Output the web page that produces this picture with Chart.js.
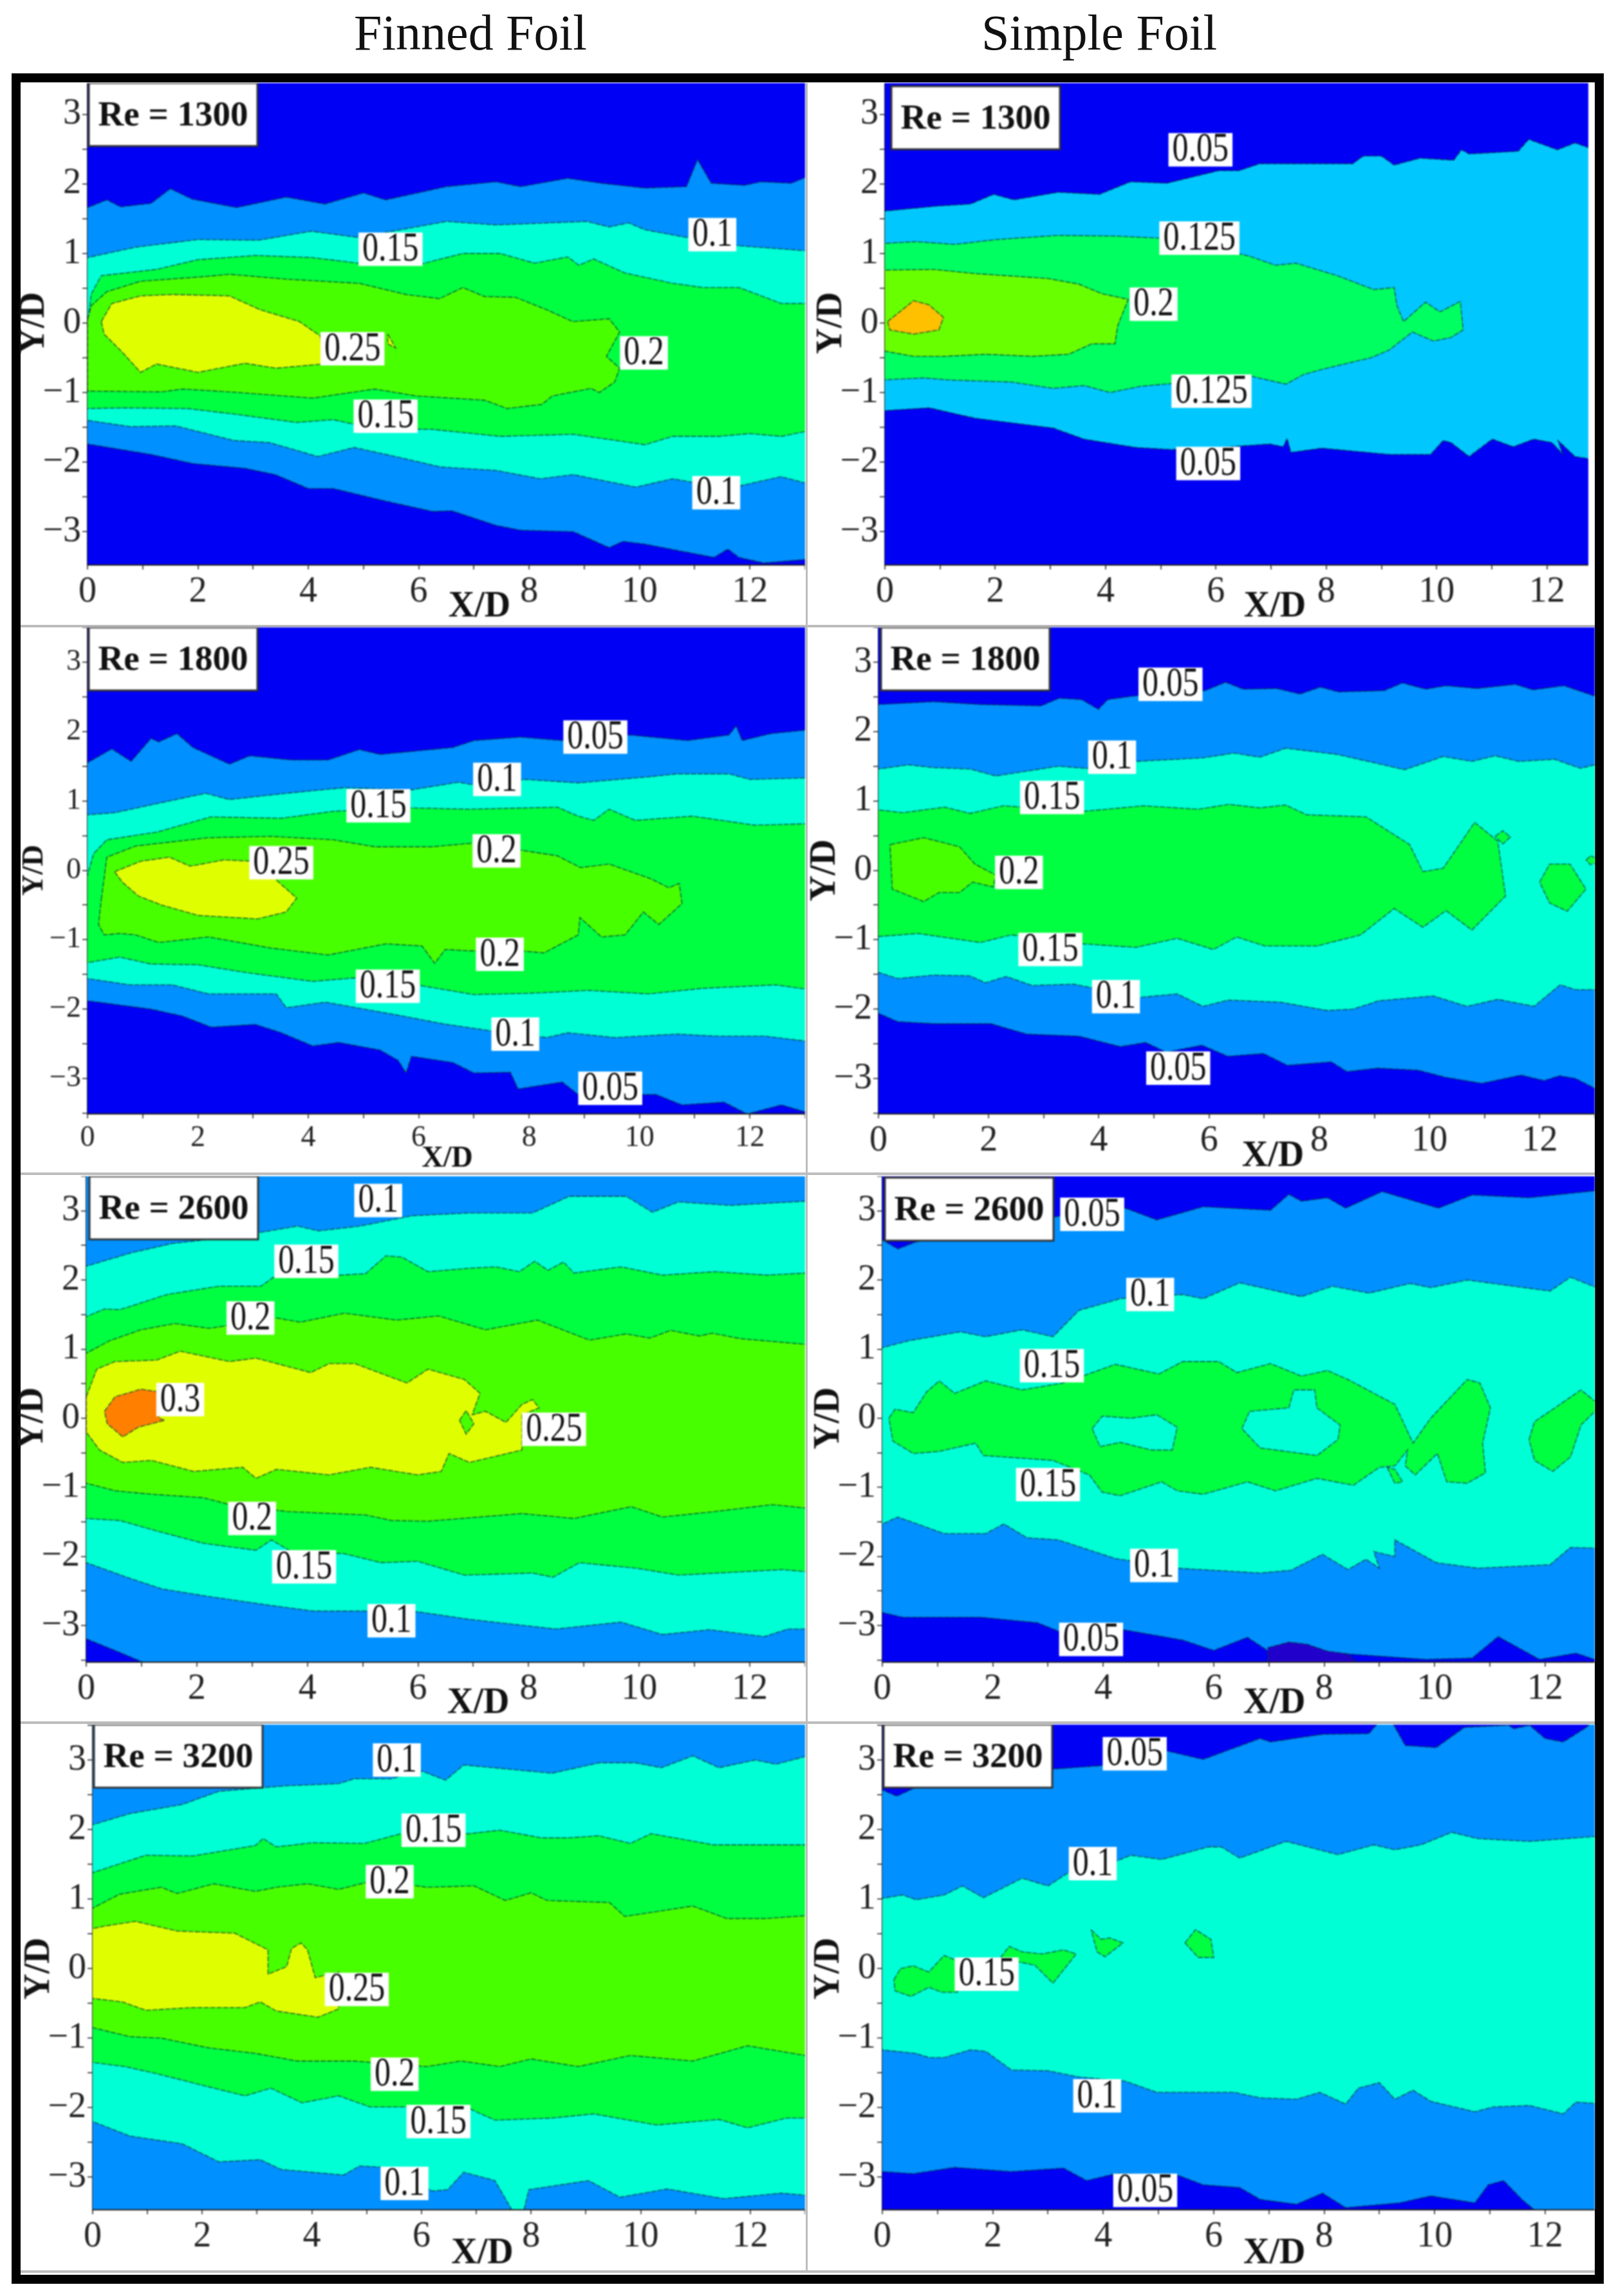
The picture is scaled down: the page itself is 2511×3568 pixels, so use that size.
<!DOCTYPE html>
<html>
<head>
<meta charset="utf-8">
<title>Finned Foil / Simple Foil</title>
<script src="https://cdn.jsdelivr.net/npm/chart.js"></script>
<style>
  html, body { margin: 0; padding: 0; background: #fff; }
  #stage { position: relative; width: 2511px; height: 3568px; overflow: hidden; background: #fff; }
  #stage canvas { position: absolute; filter: blur(0.8px); }
  .head { position: absolute; top: 6px; font: 78px "Liberation Serif", serif; color: #111; transform: translateX(-50%); white-space: nowrap; }
  .rule { position: absolute; background: #bdbdbd; }
  #frame { position: absolute; left: 18px; top: 114px; width: 2446px; height: 3407px; border: 14px solid #000; }
</style>
</head>
<body>
<div id="stage">
  <div class="head" style="left:731px">Finned Foil</div>
  <div class="head" style="left:1708px">Simple Foil</div>
  <div id="frame"></div>
  <div class="rule" style="left:32px;top:971px;width:2446px;height:4px"></div>
  <div class="rule" style="left:32px;top:1822px;width:2446px;height:4px"></div>
  <div class="rule" style="left:32px;top:2675px;width:2446px;height:4px"></div>
  <div class="rule" style="left:32px;top:3528px;width:2446px;height:4px"></div>
  <div class="rule" style="left:1252px;top:129px;width:3px;height:3400px"></div>
</div>
<script>
// contour colours
const L0 = "#0000f5", L1 = "#0090ff", L2 = "#00ffd5", L3 = "#00ff40", L4 = "#48ff00", L5 = "#dfff00", L6 = "#ff8000";
const C1 = "#00c8ff", C2 = "#00ff60", C3 = "#68ff00", C4 = "#ffc000", PURPLE = "#2200cc";

/*------------------------------------------
Finned foil, Re = 1300
-------------------------------------------*/
const f13aTopX = [0,.35,.6,1.15,1.5,1.9,2.7,3.6,4.3,5,5.4,6.5,7.4,7.85,8.7,9.3,10.1,10.85,11.05,11.3,11.9,12.2,12.75,13];
const f13aTopY = [1.66,1.77,1.67,1.72,1.93,1.78,1.66,1.81,1.71,1.87,1.77,1.96,2.03,1.96,2.08,2.01,1.94,1.96,2.35,2.01,1.98,2.03,2.01,2.09];
const f13aBotX = [0,1.15,1.9,2.85,3.4,4,4.45,5.4,6.25,6.6,7.4,7.85,8.8,9.45,9.7,10.1,11.35,11.6,11.8,12.25,13];
const f13aBotY = [-1.74,-1.89,-2.02,-2.09,-2.18,-2.38,-2.38,-2.56,-2.71,-2.7,-2.91,-2.98,-3,-3.23,-3.14,-3.18,-3.37,-3.25,-3.37,-3.45,-3.4];
const f13bTopX = [0,.87,2,3.1,4.05,4.9,6.5,7.4,9.05,9.45,9.8,10.1,10.85,11.8,13];
const f13bTopY = [.94,1.09,1.2,1.19,1.32,1.23,1.46,1.41,1.46,1.38,1.44,1.34,1.23,1.11,1.04];
const f13bBotX = [0,.77,1.6,2.65,3.3,4.17,4.83,5.58,6.4,7.4,8.2,8.8,9.93,10.6,11.6,12.56,13];
const f13bBotY = [-1.4,-1.49,-1.48,-1.69,-1.72,-1.92,-1.79,-1.92,-2.07,-2.12,-2.24,-2.18,-2.36,-2.24,-2.38,-2.21,-2.3];
const f13cTopX = [0,.07,.25,1.25,2,3.05,4.07,4.9,5.96,6.8,7.47,8.1,8.7,8.9,9.17,9.73,10.6,11.15,11.8,12.57,13];
const f13cTopY = [0,.42,.68,.77,.91,.97,.94,.86,.83,1,1,.86,.95,.83,.92,.72,.57,.51,.51,.28,.28];
const f13cBotX = [0,.68,1.81,2.66,3.79,4.45,5.2,6.25,7.47,8.8,10.1,10.6,11.43,12,12.57,13];
const f13cBotY = [-1.23,-1.22,-1.23,-1.31,-1.43,-1.39,-1.52,-1.53,-1.63,-1.6,-1.75,-1.63,-1.63,-1.59,-1.63,-1.56];
const f13dX = [0,.07,.35,.96,2.17,2.57,3.6,4.92,5.77,6.38,6.8,7.19,7.75,8.32,8.79,9.45,9.64,9.4,9.64,9.55,9.27,9.12,8.42,8.23,7.6,7.19,5.96,5.2,4.08,2.57,1.72,1.34,0];
const f13dY = [.05,.25,.45,.6,.67,.7,.63,.57,.41,.35,.51,.38,.37,.19,.02,.06,-.13,-.48,-.65,-.85,-1,-.94,-1.05,-1.17,-1.23,-1.11,-1.05,-.95,-1.08,-.99,-.95,-.99,-.98];
const f13eX = [.25,.44,.96,1.53,2.57,3.13,3.84,4.22,4.26,3.42,2.85,2,1.25,.96,.63,.3];
const f13eY = [.02,.28,.39,.41,.39,.19,.02,-.19,-.59,-.65,-.58,-.71,-.59,-.71,-.42,-.16];
const f13spikeX = [5.44,5.58,5.44];
const f13spikeY = [-.16,-.36,-.3];
const f13LabelText = ["0.15","0.1","0.25","0.2","0.15","0.1"];
const f13LabelX = [5.49,11.32,4.8,10.08,5.4,11.39];
const f13LabelY = [1.06,1.27,-.37,-.43,-1.34,-2.44];

/*------------------------------------------
Simple foil, Re = 1300
-------------------------------------------*/
const s13aTopX = [0,.94,1.55,1.97,2.34,3.14,3.89,4.45,5.11,6.05,6.42,6.79,8.48,8.67,9,9.23,9.7,10.31,10.45,10.59,11.48,11.67,12.19,12.51,12.75];
const s13aTopY = [1.61,1.68,1.71,1.85,1.77,1.88,1.85,2.03,2.01,2.19,2.19,2.29,2.29,2.4,2.4,2.27,2.37,2.34,2.49,2.43,2.47,2.64,2.49,2.59,2.52];
const s13aBotX = [0,.8,1.64,3.05,3.61,4.55,5.2,6.05,6.98,7.22,7.29,7.36,7.92,9.14,9.89,10.12,10.26,10.59,11.01,11.39,11.76,12.09,12.28,12.2,12.51,12.75];
const s13aBotY = [-1.26,-1.22,-1.37,-1.51,-1.67,-1.79,-1.82,-1.79,-1.74,-1.78,-1.66,-1.86,-1.8,-1.89,-1.89,-1.69,-1.72,-1.92,-1.67,-1.78,-1.67,-1.72,-1.88,-1.69,-1.92,-1.95];
const s13bX = [-.1,.56,1.27,2.02,3.14,4.17,4.97,5.67,6.61,7.08,7.45,8.2,8.86,9.23,9.28,9.4,9.8,10.06,10.43,10.48,10.26,9.94,9.56,9.14,8.81,8.01,7.59,7.27,6.61,5.95,4.64,4.08,3.61,3.05,2.3,1.17,.7,-.1];
const s13bY = [1.14,1.17,1.13,1.2,1.26,1.25,1.22,1.14,.96,.83,.86,.68,.48,.51,.25,.02,.3,.16,.31,-.1,-.21,-.26,-.13,-.39,-.5,-.65,-.74,-.88,-.76,-.82,-.91,-1,-.9,-.94,-.85,-.82,-.79,-.82];
const s13cX = [-.1,.89,1.64,2.95,3.51,3.94,4.41,4.22,4.17,3.75,3.33,2.67,1.83,1.08,.52,-.1];
const s13cY = [.76,.77,.71,.64,.56,.42,.34,-.04,-.3,-.3,-.45,-.48,-.45,-.48,-.48,-.39];
const s13dX = [.05,.52,.8,1.06,.98,.52,.09];
const s13dY = [.02,.32,.26,.08,-.1,-.16,-.1];
const s13LabelText = ["0.05","0.125","0.2","0.125","0.05"];
const s13LabelX = [5.72,5.7,4.87,5.92,5.86];
const s13LabelY = [2.49,1.22,.27,-.98,-2.02];

/*------------------------------------------
Finned foil, Re = 1800
-------------------------------------------*/
const f18aTopX = [0,.44,.79,1.15,1.29,1.62,1.91,2.57,2.94,3.7,4.36,4.92,5.3,6.62,7,7.85,8.6,9.83,10.87,11.62,11.75,11.86,12.38,13];
const f18aTopY = [1.55,1.75,1.57,1.9,1.85,1.97,1.77,1.53,1.65,1.59,1.59,1.74,1.67,1.77,1.87,1.92,1.87,1.95,1.87,1.95,2.08,1.87,1.97,2.02];
const f18aBotX = [0,1.15,1.72,2.24,3.04,3.51,4.08,4.55,5.3,5.63,5.77,5.87,6.62,7,7.66,7.8,8.6,8.89,10.3,10.77,11.53,11.95,12.57,13];
const f18aBotY = [-1.88,-2,-2.1,-2.26,-2.22,-2.34,-2.53,-2.48,-2.59,-2.74,-2.92,-2.68,-2.77,-2.92,-2.91,-3.15,-3.05,-3.23,-3.23,-3.38,-3.34,-3.51,-3.38,-3.48];
const f18bTopX = [0,.49,1.25,2.14,2.57,3.6,4.64,5.87,6.72,7,7.94,8.89,10.2,10.68,11.62,12,13];
const f18bTopY = [.8,.83,.96,1.11,1.02,1.11,1.19,1.16,1.27,1.23,1.31,1.26,1.35,1.39,1.39,1.31,1.33];
const f18bBotX = [0,.77,1.53,2.19,3.42,3.6,4.31,5.58,6.43,7.28,8.32,8.7,9.55,10.68,11.43,12.28,13];
const f18bBotY = [-1.56,-1.65,-1.65,-1.78,-1.78,-1.98,-1.9,-2.08,-2.21,-2.31,-2.41,-2.34,-2.41,-2.36,-2.39,-2.39,-2.46];
const f18cTopX = [0,.11,.35,1.25,2.24,3.51,4.45,5.87,6.91,8.51,8.89,9.17,9.45,9.92,10.96,12.09,13];
const f18cTopY = [-.07,.24,.44,.55,.77,.75,.85,.9,.88,.91,.78,.72,.88,.72,.78,.65,.67];
const f18cBotX = [0,.58,1.15,2,2.85,4.08,4.83,5.96,7,8.04,9.08,10.16,11.15,12.47,13];
const f18cBotY = [-1.33,-1.25,-1.35,-1.36,-1.47,-1.6,-1.55,-1.65,-1.79,-1.77,-1.73,-1.78,-1.7,-1.65,-1.71];
const f18dX = [.25,.35,.87,2.19,3.32,4.45,5.2,6.25,6.95,7.85,8.51,8.93,9.45,10.2,10.53,10.72,10.77,10.35,10.07,9.74,9.31,8.92,8.89,8.27,7.85,6.91,6.48,6.29,6.06,5.4,4.36,3.32,2.19,1.29,.87,.58,.3,.2];
const f18dY = [-.42,.19,.35,.47,.49,.44,.34,.34,.39,.29,.21,.04,.09,-.12,-.25,-.19,-.48,-.78,-.6,-.93,-.96,-.68,-.93,-1.19,-1.16,-1.16,-1.14,-1.34,-1.09,-1.06,-1.22,-1.12,-.96,-1.04,-.93,-.91,-.93,-.78];
const f18eX = [.49,.96,1.48,1.86,2.47,3.04,3.42,3.79,3.6,3.08,2,1.34,.92,.63];
const f18eY = [-.02,.13,.19,.06,.15,.13,-.14,-.4,-.6,-.7,-.65,-.5,-.37,-.17];
const f18LabelText = ["0.05","0.1","0.15","0.2","0.25","0.2","0.15","0.1","0.05"];
const f18LabelX = [9.2,7.42,5.27,7.41,3.51,7.47,5.44,7.75,9.47];
const f18LabelY = [1.92,1.31,.93,.28,.11,-1.21,-1.67,-2.36,-3.14];

/*------------------------------------------
Simple foil, Re = 1800
-------------------------------------------*/
const s18aTopX = [0,1,1.84,2.95,3.28,3.69,3.99,4.16,4.62,5.93,6.3,6.62,7.23,7.65,8.02,8.35,9.18,9.51,9.93,10.3,10.86,11.56,11.88,12.44,13];
const s18aTopY = [2.39,2.43,2.39,2.37,2.48,2.46,2.32,2.46,2.51,2.59,2.71,2.61,2.62,2.54,2.64,2.57,2.59,2.7,2.61,2.66,2.62,2.68,2.6,2.66,2.51];
const s18aBotX = [0,.35,1,2.04,2.69,3.64,4.39,4.85,5.22,5.87,6.34,6.99,7.42,8.22,8.5,9.06,9.8,10.28,10.95,11.66,12.08,12.36,12.65,13];
const s18aBotY = [-2.06,-2.18,-2.21,-2.21,-2.36,-2.39,-2.54,-2.48,-2.62,-2.52,-2.68,-2.64,-2.81,-2.76,-2.9,-2.85,-2.88,-2.98,-3.07,-2.95,-3.03,-2.96,-3,-3.14];
const s18bTopX = [0,.54,1,1.66,2.13,3.26,3.92,4.67,5.89,6.45,6.92,7.39,8.33,9.55,10.25,10.77,11.19,11.62,12.27,12.74,13];
const s18bTopY = [1.46,1.52,1.48,1.46,1.36,1.5,1.46,1.57,1.62,1.69,1.63,1.76,1.67,1.45,1.64,1.57,1.65,1.57,1.6,1.47,1.52];
const s18bBotX = [0,.35,1,1.66,1.94,2.32,2.79,3.54,4.76,5.42,5.89,6.35,7.3,8.14,8.61,9.08,10.07,10.68,11.24,11.9,12.37,12.65,13];
const s18bBotY = [-1.47,-1.56,-1.51,-1.52,-1.62,-1.53,-1.66,-1.64,-1.83,-1.78,-1.96,-1.87,-1.9,-2.02,-2,-1.88,-1.81,-1.96,-1.86,-1.96,-1.65,-1.72,-1.72];
const s18cX = [-.1,.44,1.2,1.66,2.27,3.73,4.81,5.8,6.36,6.92,7.39,7.77,8.85,9.64,9.88,10.25,10.82,11.24,11.38,10.77,10.3,9.88,9.36,8.75,7.96,7.01,6.5,6.08,5.42,4.67,3.73,2.41,1.85,.72,-.1];
const s18cY = [.88,.83,.91,.82,.93,.85,.93,.88,.95,.9,.94,.8,.77,.37,-.02,.03,.69,.42,-.37,-.86,-.58,-.82,-.55,-.93,-1.09,-1.09,-.96,-1.14,-.98,-1.11,-1.06,-.93,-1.04,-.91,-.96];
const s18diamondX = [11.19,11.33,11.47,11.33];
const s18diamondY = [.49,.57,.48,.38];
const s18ovalX = [12,12.18,12.55,12.84,12.5,12.18];
const s18ovalY = [-.17,.09,.09,-.27,-.59,-.47];
const s18edgeX = [12.84,12.93,13.1,12.92];
const s18edgeY = [.15,.21,.14,.08];
const s18dX = [.21,.82,1.47,1.75,2.13,2.08,1.71,1.47,1.1,.82,.25];
const s18dY = [.37,.47,.34,.09,-.07,-.24,-.17,-.32,-.32,-.45,-.27];
const s18LabelText = ["0.05","0.1","0.15","0.2","0.15","0.1","0.05"];
const s18LabelX = [5.3,4.24,3.15,2.55,3.12,4.31,5.44];
const s18LabelY = [2.68,1.63,1.05,-.03,-1.14,-1.82,-2.85];

/*------------------------------------------
Finned foil, Re = 2600
-------------------------------------------*/
const f26cornerX = [-.1,.61,1.23,-.1];
const f26cornerY = [-3.16,-3.39,-3.6,-3.6];
const f26aTopX = [0,.8,1.56,2.03,3.16,3.82,4.2,4.95,5.9,6.93,8.07,8.73,9.77,10.24,10.71,11.65,13];
const f26aTopY = [2.2,2.39,2.53,2.57,2.69,2.78,2.71,2.78,2.93,2.97,2.97,3.21,3.21,2.98,3.13,3.08,3.14];
const f26aBotX = [0,.8,1.37,2.22,3.35,4.1,5.9,6.93,8.49,9.67,10.42,11.27,12.26,12.69,13];
const f26aBotY = [-2.09,-2.32,-2.47,-2.58,-2.71,-2.79,-2.79,-2.91,-3.05,-2.95,-3.13,-3.06,-3.16,-3.05,-3.05];
const f26bTopX = [0,.33,.61,1.46,2.4,3.16,3.44,4.58,5.05,5.42,5.71,6.18,6.93,7.41,7.83,8.11,8.35,8.63,8.82,9.67,10.42,11.37,12.31,13];
const f26bTopY = [1.47,1.58,1.57,1.79,1.91,1.91,2.07,2.07,2.09,2.35,2.33,2.12,2.17,2.19,2.12,2.27,2.14,2.26,2.1,2.19,2.07,2.12,2.07,2.1];
const f26bBotX = [0,.61,1.27,2.12,3.07,3.35,3.73,4.67,5.33,5.99,6.84,8.07,8.44,8.92,9.95,10.71,12.59,13];
const f26bBotY = [-1.45,-1.48,-1.63,-1.81,-1.91,-1.76,-1.94,-1.96,-2.09,-2.07,-2.27,-2.24,-2.3,-2.09,-2.17,-2.27,-2.19,-2.22];
const f26cTopX = [0,.42,.99,1.6,2.22,3.44,3.87,4.67,5.61,6.37,7.22,8.16,9.1,9.76,10.19,10.57,11.09,11.32,11.84,13];
const f26cTopY = [.94,1.12,1.28,1.37,1.3,1.45,1.39,1.52,1.42,1.48,1.28,1.42,1.13,1.22,1.16,1.27,1.19,1.23,1.15,1.07];
const f26cBotX = [0,.52,1.18,2.12,2.59,3.63,5.05,5.52,6.18,7.88,8.82,9.86,10.42,11.37,12.41,13];
const f26cBotY = [-.94,-1.05,-1.1,-1.15,-1.25,-1.35,-1.4,-1.48,-1.49,-1.38,-1.45,-1.28,-1.43,-1.35,-1.25,-1.3];
const f26dX = [0,.19,.52,1.27,1.7,2.59,3.07,4.06,4.39,4.86,5.8,6.18,6.84,7.12,6.98,7.22,7.59,7.88,8.07,8.19,7.88,7.88,6.93,6.56,6.42,5.99,5.14,4.39,3.44,3.07,2.83,1.94,1.18,.66,.24,0];
const f26dY = [.31,.71,.82,.84,.97,.82,.87,.66,.79,.79,.51,.71,.56,.36,.05,.1,-.06,.2,.27,.15,.05,-.46,-.64,-.51,-.77,-.82,-.71,-.82,-.74,-.87,-.71,-.77,-.61,-.64,-.46,-.2];
const f26holeX = [6.75,6.87,7.01,6.87];
const f26holeY = [-.03,.11,-.08,-.23];
const f26eX = [.33,.52,.99,1.32,1.32,1.42,.94,.66,.38];
const f26eY = [.1,.31,.42,.38,0,-.03,-.13,-.27,-.08];
const f26LabelText = ["0.1","0.15","0.2","0.3","0.25","0.2","0.15","0.1"];
const f26LabelX = [5.28,3.98,2.97,1.7,8.46,3,3.94,5.52];
const f26LabelY = [3.15,2.27,1.45,.27,-.16,-1.45,-2.15,-2.93];

/*------------------------------------------
Simple foil, Re = 2600
-------------------------------------------*/
const s26aTopX = [0,.28,.61,3.09,4.4,4.97,5.81,7.03,7.36,7.59,8.06,8.39,9.05,10.07,10.68,11.71,12.9];
const s26aTopY = [2.58,2.45,2.55,2.91,3.04,2.87,3.06,3.01,3.24,3.14,3.19,3.04,3.28,3.04,3.23,3.19,3.29];
const s26aBotX = [0,.37,1.78,2.81,3.28,4.36,5.44,6,6.61,7.03,8.43,9.84,10.68,11.15,11.9,12.56,12.9];
const s26aBotY = [-2.81,-2.88,-2.88,-2.96,-3.11,-3.06,-3.21,-3.36,-3.17,-3.39,-3.41,-3.49,-3.47,-3.16,-3.49,-3.4,-3.49];
const s26patchX = [6.98,7.36,7.69,8.06,8.43,8.67,6.98];
const s26patchY = [-3.32,-3.24,-3.27,-3.37,-3.41,-3.6,-3.6];
const s26bTopX = [0,.47,1.41,1.87,2.53,3.09,3.56,4.31,4.78,5.44,5.81,6.47,7.59,8.15,8.81,9.56,9.93,10.59,11.43,12.09,12.46,12.9];
const s26bTopY = [1.02,1.12,1.25,1.18,1.28,1.18,1.56,1.73,1.76,1.79,1.73,1.96,1.76,1.91,1.81,1.95,1.89,2,1.91,1.84,2.04,1.9];
const s26bBotX = [0,.28,1.12,1.87,2.2,2.62,3.18,4.22,5.34,6.84,7.4,7.97,8.43,8.76,9,8.9,9.28,9.28,10.03,10.78,12.09,12.46,12.9];
const s26bBotY = [-1.53,-1.43,-1.67,-1.67,-1.53,-1.73,-1.76,-2.03,-2.17,-2.24,-2.2,-1.97,-2.19,-2.04,-2.17,-1.93,-2,-1.76,-2.09,-2.17,-2.12,-1.87,-1.88];
const s26cX = [.12,.23,.56,.8,1.03,1.31,1.87,2.53,3.28,4.22,5.01,5.44,6.09,6.42,7.03,7.59,8.06,8.43,9.28,9.61,9.93,10.59,10.82,11.01,10.87,10.92,10.59,10.22,10.05,9.65,9.47,9.51,9.28,9,8.53,7.87,7.12,6.61,5.81,5.34,5.06,4.31,3.98,3.75,3.09,1.83,1.69,1.03,.56,.19];
const s26cY = [0,.13,.08,.38,.54,.36,.54,.41,.51,.78,.64,.82,.82,.66,.79,.61,.69,.56,.2,-.36,0,.56,.51,.15,-.36,-.79,-.94,-.92,-.51,-.82,-.69,-.46,-.69,-.71,-.97,-.87,-1.05,-.92,-1.1,-1.05,-.92,-1.12,-1.07,-.82,-.61,-.54,-.36,-.48,-.51,-.33];
const s26tailX = [9.14,9.28,9.42,9.28];
const s26tailY = [-.71,-.94,-.92,-.74];
const s26islandX = [11.71,11.81,12.18,12.65,13,12.65,12.46,12.14,11.81];
const s26islandY = [-.31,-.05,.15,.41,.18,-.1,-.56,-.77,-.61];
const s26hole1X = [3.8,3.98,4.5,4.97,5.34,5.25,4.87,4.31,3.94];
const s26hole1Y = [-.15,.03,0,.05,-.13,-.46,-.46,-.35,-.41];
const s26hole2X = [6.51,6.65,7.36,7.45,7.83,7.87,8.29,8.25,7.87,6.84];
const s26hole2Y = [-.15,.1,.15,.41,.41,.15,-.1,-.31,-.54,-.43];
const s26LabelText = ["0.05","0.1","0.15","0.15","0.1","0.05"];
const s26LabelX = [3.8,4.85,3.07,3,4.92,3.78];
const s26LabelY = [2.95,1.79,.76,-.96,-2.13,-3.2];

/*------------------------------------------
Finned foil, Re = 3200
-------------------------------------------*/
const f32aTopX = [0,.68,1.63,2.3,3.54,4.49,4.77,5.44,6.01,6.44,6.77,8.38,9.24,9.9,10.38,10.95,11.43,12.09,12.47,13];
const f32aTopY = [2.07,2.23,2.36,2.55,2.63,2.66,2.73,2.73,2.84,2.71,2.93,2.81,2.96,2.96,2.89,3.06,2.89,3,2.94,3.05];
const f32aBotX = [0,.68,1.63,2.3,3.06,3.44,4.58,4.87,5.34,6.2,6.48,6.77,7.34,7.67,7.86,7.96,9.05,9.62,10.48,11.52,12.57,13];
const f32aBotY = [-2.2,-2.41,-2.52,-2.78,-2.75,-2.89,-2.97,-2.84,-2.86,-3.2,-3.18,-2.93,-3.05,-3.5,-3.5,-3.18,-3.05,-3.29,-3.17,-3.31,-3.23,-3.26];
const f32bTopX = [0,.97,1.83,2.97,3.11,3.35,4.01,4.96,5.63,6.86,7.43,8.19,8.67,9.24,9.81,10.19,11.33,12,13];
const f32bTopY = [1.38,1.63,1.62,1.77,1.87,1.75,1.81,1.8,1.94,1.94,1.99,1.88,1.88,1.91,1.8,1.94,1.78,1.78,1.78];
const f32bBotX = [0,.59,1.16,2.11,2.78,3.25,3.82,4.49,5.06,5.72,6.86,7.34,8.38,9.14,10.29,11.43,11.95,12.66,13];
const f32bBotY = [-1.35,-1.41,-1.51,-1.7,-1.83,-1.72,-1.93,-1.83,-1.99,-1.99,-2.01,-2.18,-2.15,-2.09,-2.25,-2.17,-2.29,-2.15,-2.15];
const f32cTopX = [0,.49,1.25,1.54,2.21,2.97,3.35,3.92,4.49,5.15,6.1,6.96,7.53,8,8.29,9.43,9.71,10.95,11.57,12.28,13];
const f32cTopY = [.87,1.07,1.17,1.08,1.22,1.11,1.17,1.22,1.14,1.27,1.17,1.19,.98,1.09,.98,.95,.75,.9,.72,.72,.76];
const f32cBotX = [0,.68,1.25,2.11,2.97,3.73,4.77,6.1,6.72,7.43,8,8.86,9.81,10.95,11.95,13];
const f32cBotY = [-.85,-.98,-1,-1.14,-1.22,-1.33,-1.33,-1.41,-1.33,-1.41,-1.3,-1.41,-1.25,-1.33,-1.11,-1.25];
const f32dX = [-.1,.21,.78,1.54,2.59,3.2,3.2,3.54,3.63,3.8,3.92,4.06,4.49,4.49,4.11,3.35,3.06,2.78,1.83,.97,.54,-.1];
const f32dY = [.56,.61,.68,.54,.51,.27,-.08,.03,.29,.37,.27,-.13,-.05,-.58,-.7,-.61,-.48,-.56,-.56,-.6,-.48,-.42];
const f32LabelText = ["0.1","0.15","0.2","0.25","0.2","0.15","0.1"];
const f32LabelX = [5.55,6.22,5.42,4.82,5.51,6.31,5.69];
const f32LabelY = [3,1.99,1.25,-.3,-1.52,-2.2,-3.09];

/*------------------------------------------
Simple foil, Re = 3200
-------------------------------------------*/
const s32aTopX = [0,.26,.56,3.09,3.98,5.15,5.81,6.84,7.03,7.97,8.81,9.05,9.19,9.47,10.03,10.54,11.34,11.43,11.72,12,12.33,12.75,12.9];
const s32aTopY = [2.57,2.48,2.59,2.87,2.92,3.13,3.01,3.31,3.26,3.37,3.38,3.6,3.6,3.21,3.18,3.47,3.5,3.45,3.5,3.31,3.26,3.47,3.6];
const s32aBotX = [0,.56,1.31,2.34,3.28,3.7,4.22,5.34,5.81,6.47,6.84,7.5,7.97,8.39,9.37,9.93,10.73,10.97,11.25,11.58,12,12.9];
const s32aBotY = [-2.92,-2.95,-2.86,-2.92,-2.87,-3.05,-2.95,-2.97,-3.11,-3.15,-3.32,-3.39,-3.23,-3.44,-3.37,-3.27,-3.37,-3.11,-3.05,-3.32,-3.6,-3.6];
const s32bTopX = [0,.37,.61,1.12,1.45,1.83,2.53,3,3.37,4.22,4.5,5.06,5.9,6.14,6.47,7.31,8.25,8.9,9.28,9.75,10.31,10.78,11.72,12.9];
const s32bTopY = [1.01,1.06,.99,1.06,1.19,1.02,1.3,1.19,1.38,1.54,1.63,1.57,1.75,1.75,1.59,1.83,1.64,1.78,1.71,1.78,1.96,1.87,1.83,1.9];
const s32bBotX = [0,.61,.84,1.12,1.59,1.87,2.34,3,3.56,4.4,4.97,5.62,6.37,6.84,7.5,7.92,8.39,8.62,9,9.28,9.61,9.93,10.73,11.06,11.72,12.33,12.56,12.9];
const s32bBotY = [-1.17,-1.22,-1.28,-1.28,-1.17,-1.19,-1.46,-1.47,-1.56,-1.62,-1.78,-1.78,-1.78,-1.86,-1.88,-1.78,-1.95,-1.72,-1.64,-1.88,-1.75,-1.91,-2.06,-1.99,-1.97,-2.09,-1.92,-1.94];
const s32i1X = [.21,.33,.56,.84,1.12,1.36,1.36,1.08,.84,.52,.23];
const s32i1Y = [-.16,0,.04,-.05,.19,.11,-.34,-.34,-.27,-.4,-.32];
const s32i2X = [2.14,2.3,2.53,2.9,3.28,3.51,3.09,2.76,2.44,2.16];
const s32i2Y = [.16,.32,.24,.21,.27,.21,-.21,.05,.1,.1];
const s32i3X = [3.78,3.96,4.12,4.36,4.03,3.89];
const s32i3Y = [.56,.42,.44,.37,.17,.24];
const s32i4X = [5.48,5.67,5.95,6,5.72];
const s32i4Y = [.37,.56,.42,.16,.16];
const s32LabelText = ["0.05","0.1","0.15","0.1","0.05"];
const s32LabelX = [4.57,3.81,1.89,3.89,4.76];
const s32LabelY = [3.09,1.51,-.08,-1.83,-3.19];

// tick positions
const xTickStep = 1;
const yTickStep = 0.5;

const lengthProblems = [];
function isle(xs, ys) {
  if (xs.length !== ys.length) lengthProblems.push(xs.length + "/" + ys.length + " at " + xs[0]);
  const pts = xs.map((x, i) => ({ x: x, y: ys[i] }));
  pts.push(pts[0]);
  return pts;
}
// upper boundary left to right, lower boundary back; run past both edges so the closing side is clipped
function band(tx, ty, bx, by, xEnd) {
  const top = isle(tx, ty).slice(0, -1);
  const bot = isle(bx, by).slice(0, -1).reverse();
  const pts = [{ x: -0.4, y: ty[0] }, ...top, { x: xEnd + 0.4, y: ty[ty.length - 1] },
               { x: xEnd + 0.4, y: by[by.length - 1] }, ...bot, { x: -0.4, y: by[0] }];
  pts.push(pts[0]);
  return pts;
}
function base(xEnd) {
  return [{ x: -1, y: 5 }, { x: xEnd + 1, y: 5 }, { x: xEnd + 1, y: -5 }, { x: -1, y: -5 }, { x: -1, y: 5 }];
}

const panels = [
  { id: "f13", left: 136, right: 1251, top: 129, bottom: 877, xMax: 13, yMin: -3.47, yMax: 3.45, re: "Re = 1300", reDx: 2, reDy: 0, xTitleAt: 7.1, xTitleDy: 67,
    labels: [f13LabelText, f13LabelX, f13LabelY],
    layers: [[L0, base(13)], [L1, band(f13aTopX, f13aTopY, f13aBotX, f13aBotY, 13)], [L2, band(f13bTopX, f13bTopY, f13bBotX, f13bBotY, 13)],
      [L3, band(f13cTopX, f13cTopY, f13cBotX, f13cBotY, 13)], [L4, isle(f13dX, f13dY)], [L5, isle(f13eX, f13eY)], [L5, isle(f13spikeX, f13spikeY)]] },
  { id: "s13", left: 1375, right: 2468, top: 129, bottom: 877, xMax: 12.75, yMin: -3.47, yMax: 3.45, re: "Re = 1300", reDx: 10, reDy: 5, xTitleAt: 7.07, xTitleDy: 67,
    labels: [s13LabelText, s13LabelX, s13LabelY],
    layers: [[L0, base(12.75)], [C1, band(s13aTopX, s13aTopY, s13aBotX, s13aBotY, 12.75)], [C2, isle(s13bX, s13bY)], [C3, isle(s13cX, s13cY)], [C4, isle(s13dX, s13dY)]] },
  { id: "f18", left: 136, right: 1251, top: 975, bottom: 1730, xMax: 13, yMin: -3.5, yMax: 3.5, re: "Re = 1800", reDx: 2, reDy: 0, xTitleAt: 6.52, xTitleDy: 71, small: true,
    labels: [f18LabelText, f18LabelX, f18LabelY],
    layers: [[L0, base(13)], [L1, band(f18aTopX, f18aTopY, f18aBotX, f18aBotY, 13)], [L2, band(f18bTopX, f18bTopY, f18bBotX, f18bBotY, 13)],
      [L3, band(f18cTopX, f18cTopY, f18cBotX, f18cBotY, 13)], [L4, isle(f18dX, f18dY)], [L5, isle(f18eX, f18eY)]] },
  { id: "s18", left: 1365, right: 2478, top: 975, bottom: 1730, xMax: 13, yMin: -3.5, yMax: 3.5, re: "Re = 1800", reDx: 4, reDy: 0, xTitleAt: 7.16, xTitleDy: 68,
    labels: [s18LabelText, s18LabelX, s18LabelY],
    layers: [[L0, base(13)], [L1, band(s18aTopX, s18aTopY, s18aBotX, s18aBotY, 13)], [L2, band(s18bTopX, s18bTopY, s18bBotX, s18bBotY, 13)],
      [L3, isle(s18cX, s18cY)], [L3, isle(s18diamondX, s18diamondY)], [L3, isle(s18ovalX, s18ovalY)], [L3, isle(s18edgeX, s18edgeY)], [L4, isle(s18dX, s18dY)]] },
  { id: "f26", left: 134, right: 1251, top: 1828, bottom: 2582, xMax: 13, yMin: -3.52, yMax: 3.5, re: "Re = 2600", reDx: 5, reDy: 0, xTitleAt: 7.09, xTitleDy: 66,
    labels: [f26LabelText, f26LabelX, f26LabelY],
    layers: [[L1, base(13)], [L0, isle(f26cornerX, f26cornerY)], [L2, band(f26aTopX, f26aTopY, f26aBotX, f26aBotY, 13)], [L3, band(f26bTopX, f26bTopY, f26bBotX, f26bBotY, 13)],
      [L4, band(f26cTopX, f26cTopY, f26cBotX, f26cBotY, 13)], [L5, isle(f26dX, f26dY)], [L4, isle(f26holeX, f26holeY)], [L6, isle(f26eX, f26eY)]] },
  { id: "s26", left: 1371, right: 2478, top: 1828, bottom: 2582, xMax: 12.9, yMin: -3.52, yMax: 3.5, re: "Re = 2600", reDx: 4, reDy: 2, xTitleAt: 7.1, xTitleDy: 66,
    labels: [s26LabelText, s26LabelX, s26LabelY],
    layers: [[L0, base(12.9)], [L1, band(s26aTopX, s26aTopY, s26aBotX, s26aBotY, 12.9)], [PURPLE, isle(s26patchX, s26patchY)], [L2, band(s26bTopX, s26bTopY, s26bBotX, s26bBotY, 12.9)],
      [L3, isle(s26cX, s26cY)], [L3, isle(s26tailX, s26tailY)], [L3, isle(s26islandX, s26islandY)], [L2, isle(s26hole1X, s26hole1Y)], [L2, isle(s26hole2X, s26hole2Y)]] },
  { id: "f32", left: 144, right: 1251, top: 2680, bottom: 3433, xMax: 13, yMin: -3.46, yMax: 3.51, re: "Re = 3200", reDx: 2, reDy: 0, xTitleAt: 7.11, xTitleDy: 70,
    labels: [f32LabelText, f32LabelX, f32LabelY],
    layers: [[L1, base(13)], [L2, band(f32aTopX, f32aTopY, f32aBotX, f32aBotY, 13)], [L3, band(f32bTopX, f32bTopY, f32bBotX, f32bBotY, 13)],
      [L4, band(f32cTopX, f32cTopY, f32cBotX, f32cBotY, 13)], [L5, isle(f32dX, f32dY)]] },
  { id: "s32", left: 1371, right: 2478, top: 2680, bottom: 3433, xMax: 12.9, yMin: -3.46, yMax: 3.51, re: "Re = 3200", reDx: 2, reDy: 0, xTitleAt: 7.1, xTitleDy: 70,
    labels: [s32LabelText, s32LabelX, s32LabelY],
    layers: [[L0, base(12.9)], [L1, band(s32aTopX, s32aTopY, s32aBotX, s32aBotY, 12.9)], [L2, band(s32bTopX, s32bTopY, s32bBotX, s32bBotY, 12.9)],
      [L3, isle(s32i1X, s32i1Y)], [L3, isle(s32i2X, s32i2Y)], [L3, isle(s32i3X, s32i3Y)], [L3, isle(s32i4X, s32i4Y)]] },
];

if (lengthProblems.length) throw new Error("array lengths: " + lengthProblems.join("; "));

// contour value boxes, Re box and the X/D, Y/D captions
const panelText = {
  id: "panelText",
  afterDraw(chart, args, opts) {
    const { ctx, chartArea, scales } = chart;
    const p = opts.panel;
    ctx.save();
    ctx.textAlign = "center";
    ctx.textBaseline = "middle";

    p.labels[0].forEach((text, i) => {
      const px = scales.x.getPixelForValue(p.labels[1][i]);
      const py = scales.y.getPixelForValue(p.labels[2][i]);
      ctx.font = '50px "Liberation Serif"';
      const w = ctx.measureText(text).width + 12;
      ctx.fillStyle = "#fff";
      ctx.fillRect(px - w / 2, py - 26, w, 52);
      ctx.save();
      ctx.translate(px, py);
      ctx.scale(1, 1.25);
      ctx.fillStyle = "#111";
      ctx.fillText(text, 0, 1);
      ctx.restore();
    });

    // Re box
    const bx = chartArea.left + p.reDx, by = chartArea.top + p.reDy;
    ctx.fillStyle = "#fff";
    ctx.fillRect(bx, by, 262, 98);
    ctx.strokeStyle = "#333";
    ctx.lineWidth = 3;
    ctx.strokeRect(bx, by, 262, 98);
    ctx.fillStyle = "#111";
    ctx.font = 'bold 55px "Liberation Serif"';
    ctx.fillText(p.re, bx + 131, by + 52);

    // axis captions
    ctx.font = 'bold ' + (p.small ? 46 : 56) + 'px "Liberation Serif"';
    ctx.fillText("X/D", scales.x.getPixelForValue(p.xTitleAt), chartArea.bottom + p.xTitleDy);
    ctx.translate(chartArea.left - 82, scales.y.getPixelForValue(0));
    ctx.rotate(-Math.PI / 2);
    ctx.fillText("Y/D", 0, 0);
    ctx.restore();
  },
};
Chart.register(panelText);

const stage = document.getElementById("stage");
const yAxisWidth = 122;
const xAxisHeight = 105;

panels.forEach((p) => {
  const canvas = document.createElement("canvas");
  canvas.width = p.right - p.left + yAxisWidth;
  canvas.height = p.bottom - p.top + xAxisHeight;
  canvas.style.left = p.left - yAxisWidth + "px";
  canvas.style.top = p.top + "px";
  stage.appendChild(canvas);

  const datasets = p.layers.map(([color, pts], i) => ({
    data: pts,
    showLine: true,
    fill: "shape",
    backgroundColor: color,
    borderColor: i === 0 ? color : "rgba(0,55,60,.75)",
    borderWidth: i === 0 ? 0 : 1.6,
    borderDash: [8, 2],
    pointRadius: 0,
    tension: 0,
    clip: 0,
    order: p.layers.length - i,
  }));

  new Chart(canvas, {
    type: "scatter",
    data: { datasets: datasets },
    options: {
      responsive: false,
      animation: false,
      events: [],
      layout: { autoPadding: false, padding: 0 },
      plugins: { legend: { display: false }, tooltip: { enabled: false }, panelText: { panel: p } },
      scales: {
        x: {
          type: "linear",
          min: 0,
          max: p.xMax,
          afterFit: (s) => { s.height = xAxisHeight; s.paddingLeft = 0; s.paddingRight = 0; },
          border: { color: "#222", width: 3 },
          grid: { drawOnChartArea: false, tickLength: 8, color: "#555", lineWidth: 2 },
          ticks: {
            stepSize: xTickStep,
            autoSkip: false,
            maxRotation: 0,
            includeBounds: false,
            padding: p.small ? 3 : 2,
            color: "#222",
            font: { family: "Liberation Serif", size: p.small ? 46 : 56 },
            callback: (v) => (v % 2 === 0 ? String(v) : ""),
          },
        },
        y: {
          type: "linear",
          min: p.yMin,
          max: p.yMax,
          afterFit: (s) => { s.width = yAxisWidth; s.paddingTop = 0; s.paddingBottom = 0; },
          border: { color: "#222", width: 2 },
          grid: { drawOnChartArea: false, tickLength: 8, color: "#555", lineWidth: 2 },
          ticks: {
            stepSize: yTickStep,
            autoSkip: false,
            includeBounds: false,
            padding: 2,
            color: "#222",
            font: { family: "Liberation Serif", size: p.small ? 46 : 56 },
            callback: (v) => (Number.isInteger(v) ? String(v).replace("-", "\u2212") : ""),
          },
        },
      },
    },
  });
});
</script>
</body>
</html>
